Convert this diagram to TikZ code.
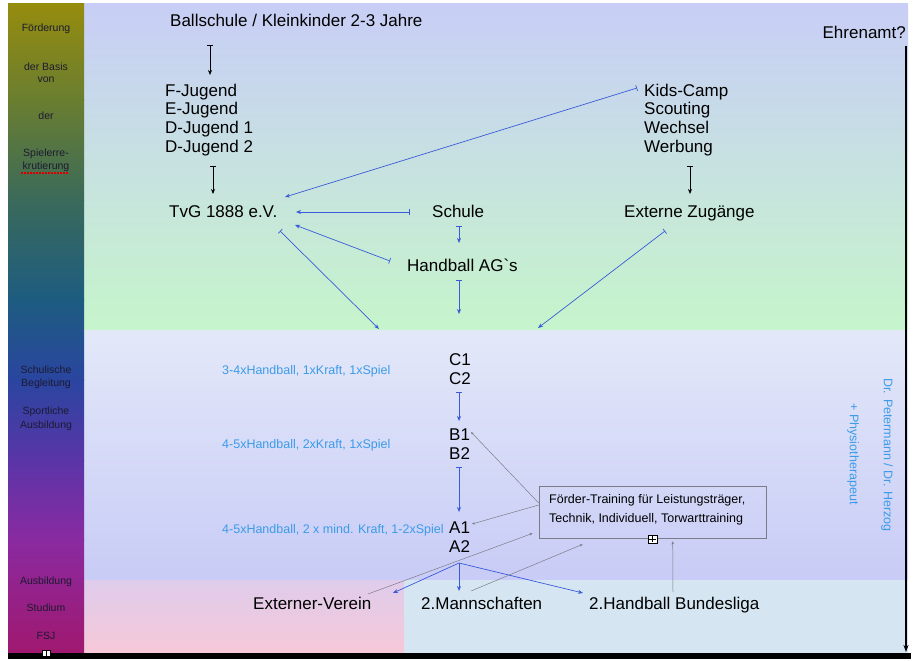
\documentclass[tikz,border=0pt]{standalone}
\usepackage{fontspec}
\setmainfont{Liberation Sans}
\usetikzlibrary{arrows.meta}
\definecolor{bluearr}{HTML}{3A5BD9}
\definecolor{skytext}{HTML}{3C9BE8}
\definecolor{grayline}{HTML}{7C7C88}
\definecolor{sidetext}{HTML}{1C1A30}
\definecolor{topA}{HTML}{C8CEF6}
\definecolor{topB}{HTML}{C6F5CB}
\definecolor{midA}{HTML}{E3E8F9}
\definecolor{midB}{HTML}{C8CCF6}
\definecolor{pinkA}{HTML}{DFCCEC}
\definecolor{pinkB}{HTML}{F7C8D7}
\definecolor{lblue}{HTML}{D5E6F2}
\definecolor{lbA}{HTML}{958C0E}
\definecolor{lbB}{HTML}{6A7E30}
\definecolor{lbC}{HTML}{3A6A5A}
\definecolor{lbD}{HTML}{1D5C80}
\definecolor{lbE}{HTML}{2A45A0}
\definecolor{lbF}{HTML}{5A35A8}
\definecolor{lbG}{HTML}{8A2AA0}
\definecolor{lbH}{HTML}{A0186E}
\begin{document}
\begin{tikzpicture}[x=1pt,y=-1pt,
  lbl/.style={font=\fontsize{17}{20}\selectfont, inner sep=0pt, text height=12pt, text depth=4pt, anchor=base west},
  sml/.style={font=\fontsize{12.5}{15}\selectfont, text=skytext, inner sep=0pt, anchor=base west},
  side/.style={font=\fontsize{10.5}{12}\selectfont, text=sidetext, inner sep=0pt, anchor=base},
  boxtxt/.style={font=\fontsize{12.5}{15}\selectfont, inner sep=0pt, anchor=base west},
  rot/.style={font=\fontsize{12.5}{15}\selectfont, text=skytext, inner sep=0pt, rotate=-90},
  blk/.style={line width=0.7pt, black, {Bar[width=6pt]}-{Stealth[length=5pt,width=4pt]}},
  blu/.style={line width=0.7pt, bluearr, {Bar[width=6pt]}-{Stealth[length=5pt,width=4pt]}},
  gry/.style={line width=0.5pt, grayline, -{Stealth[length=3pt,width=2.5pt]}},
]
\useasboundingbox (0,0) rectangle (919,661);
\fill[white] (0,0) rectangle (919,661);
% backgrounds
\shade[top color=topA, bottom color=topB] (84,4) rectangle (908,330);
\shade[top color=midA, bottom color=midB] (84,330) rectangle (908,580);
\shade[top color=pinkA, bottom color=pinkB] (84,580) rectangle (404,655);
\fill[lblue] (404,580) rectangle (908,655);
% left bar
\shade[top color=lbA, bottom color=lbB] (8,4) rectangle (84,100.5);
\shade[top color=lbB, bottom color=lbC] (8,100) rectangle (84,200.5);
\shade[top color=lbC, bottom color=lbD] (8,200) rectangle (84,300.5);
\shade[top color=lbD, bottom color=lbE] (8,300) rectangle (84,380.5);
\shade[top color=lbE, bottom color=lbF] (8,380) rectangle (84,460.5);
\shade[top color=lbF, bottom color=lbG] (8,460) rectangle (84,540.5);
\shade[top color=lbG, bottom color=lbH] (8,540) rectangle (84,655);
% left bar texts
\node[side] (lt1) at (46,32) {Förderung};
\node[side] (lt2) at (46,71) {der Basis};
\node[side] (lt3) at (46,83) {von};
\node[side] (lt4) at (46,120) {der};
\node[side] (lt5) at (46,157) {Spielerre-};
\node[side] (lt6) at (46,169) {krutierung};
\draw[red!85!black, line width=1.3pt, dash pattern=on 1.6pt off 1.4pt] (21,173) -- (69,173);
\node[side] (lt7) at (46,373) {Schulische};
\node[side] (lt8) at (46,386) {Begleitung};
\node[side] (lt9) at (46,414) {Sportliche};
\node[side] (lt10) at (46,428) {Ausbildung};
\node[side] (lt11) at (46,584) {Ausbildung};
\node[side] (lt12) at (46,611) {Studium};
\node[side] (lt13) at (46,639) {FSJ};
% bottom bar
\fill[black] (8,653) rectangle (911,659);
\node[fill=white, draw=black, line width=.4pt, minimum width=8pt, minimum height=6pt, inner sep=0pt] (icon) at (46,653) {};
\draw[line width=.5pt] (icon.north) -- (icon.south);
% main labels
\node[lbl] (ball) at (170,27) {Ballschule / Kleinkinder 2-3 Jahre};
\node[lbl] (f1) at (165,96) {F-Jugend};
\node[lbl] (f2) at (165,114.7) {E-Jugend};
\node[lbl] (f3) at (165,133.4) {D-Jugend 1};
\node[lbl] (f4) at (165,152.1) {D-Jugend 2};
\node[lbl] (k1) at (644,96) {Kids-Camp};
\node[lbl] (k2) at (644,114.7) {Scouting};
\node[lbl] (k3) at (644,133.4) {Wechsel};
\node[lbl] (k4) at (644,152.1) {Werbung};
\node[lbl] (tvg) at (169,217) {TvG 1888 e.V.};
\node[lbl] (schule) at (432,217) {Schule};
\node[lbl] (ext) at (624,217) {Externe Zugänge};
\node[lbl] (hag) at (407,271) {Handball AG\textasciigrave s};
\node[lbl, anchor=base east] (ehr) at (906,39) {Ehrenamt?};
\node[lbl] (c1) at (449,365) {C1};
\node[lbl] (c2) at (449,384) {C2};
\node[lbl] (b1) at (449,440) {B1};
\node[lbl] (b2) at (449,459) {B2};
\node[lbl] (a1) at (449,533) {A1};
\node[lbl] (a2) at (449,552) {A2};
\node[lbl] (ev) at (253,609) {Externer-Verein};
\node[lbl] (m2) at (421,609) {2.Mannschaften};
\node[lbl] (bl) at (589,609) {2.Handball Bundesliga};
\node[sml] (s1) at (222,374) {3-4xHandball, 1xKraft, 1xSpiel};
\node[sml] (s2) at (222,448.5) {4-5xHandball, 2xKraft, 1xSpiel};
\node[sml] (s3) at (222,533.5) {4-5xHandball, 2 x mind. Kraft, 1-2xSpiel};
\node[rot] (dr) at (887,455) {Dr. Petermann / Dr. Herzog};
\node[rot] (phys) at (853,454) {+ Physiotherapeut};
% box
\node[draw=grayline, line width=0.6pt, minimum width=227pt, minimum height=52pt, inner sep=0pt] (fbox) at (652.5,512) {};
\node[boxtxt] (fb1) at (549,503.5) {Förder-Training für Leistungsträger,};
\node[boxtxt] (fb2) at (549,522) {Technik, Individuell, Torwarttraining};
\node[draw=black, fill=white, line width=0.5pt, minimum width=9pt, minimum height=8pt, inner sep=0pt] (plus) at (652.5,539) {};
\draw[line width=0.5pt] ([yshift=-1.5pt]plus.north) -- ([yshift=1.5pt]plus.south);
\draw[line width=0.5pt] ([xshift=1.5pt]plus.west) -- ([xshift=-1.5pt]plus.east);
% right line
\coordinate (rend) at (906,652);
\draw[line width=1.2pt, -{Stealth[length=7pt,width=5pt]}] ([shift={(0,7)}]ehr.base east) -- (rend);
% black connectors
\draw[blk] ([shift={(40,18)}]ball.base west) -- ([shift={(45,-21)}]f1.base west);
\draw[blk] ([shift={(48,14)}]f4.base west) -- ([shift={(44,-23)}]tvg.base west);
\draw[blk] ([shift={(46,14)}]k4.base west) -- ([shift={(66,-23)}]ext.base west);
% blue connectors
\draw[blu] ([shift={(-7,-8)}]k1.base west) -- ([shift={(116,-20)}]tvg.base west);
\draw[blu] ([shift={(-22,-5)}]schule.base west) -- ([shift={(127,-5)}]tvg.base west);
\draw[blu] ([shift={(27,9)}]schule.base west) -- ([shift={(52,-28)}]hag.base west);
\draw[blu] ([shift={(-17,-10)}]hag.base west) -- ([shift={(126,8)}]tvg.base west);
\draw[blu] ([shift={(111,14)}]tvg.base west) -- ([shift={(-70,-36)}]c1.base west);
\draw[blu] ([shift={(52,9)}]hag.base west) -- ([shift={(10,-51)}]c1.base west);
\draw[blu] ([shift={(41,14)}]ext.base west) -- ([shift={(89,-37)}]c1.base west);
\draw[blu] ([shift={(10,8)}]c2.base west) -- ([shift={(10,-19)}]b1.base west);
\draw[blu] ([shift={(10,8)}]b2.base west) -- ([shift={(10,-21)}]a1.base west);
\draw[line width=0.7pt, bluearr, -{Stealth[length=5pt,width=4pt]}] ([shift={(10,11)}]a2.base west) -- ([shift={(140,-16)}]ev.base west);
\draw[line width=0.7pt, bluearr, -{Stealth[length=5pt,width=4pt]}] ([shift={(10,11)}]a2.base west) -- ([shift={(38,-18)}]m2.base west);
\draw[line width=0.7pt, bluearr, -{Stealth[length=5pt,width=4pt]}] ([shift={(10,11)}]a2.base west) -- ([shift={(-6,-16)}]bl.base west);
% gray connectors
\draw[gry] ([shift={(0,-9)}]fbox.west) -- ([shift={(22,-8)}]b1.base west);
\draw[gry] ([shift={(0,-7)}]fbox.west) -- ([shift={(23,-9)}]a1.base west);
\draw[gry] ([shift={(115,-15)}]ev.base west) -- ([shift={(-6,-5)}]fbox.south west);
\draw[gry] ([shift={(50,-18)}]m2.base west) -- ([shift={(44,6)}]fbox.south west);
\draw[gry] ([shift={(84,-17)}]bl.base west) -- ([shift={(134,3)}]fbox.south west);
\end{tikzpicture}
\end{document}
